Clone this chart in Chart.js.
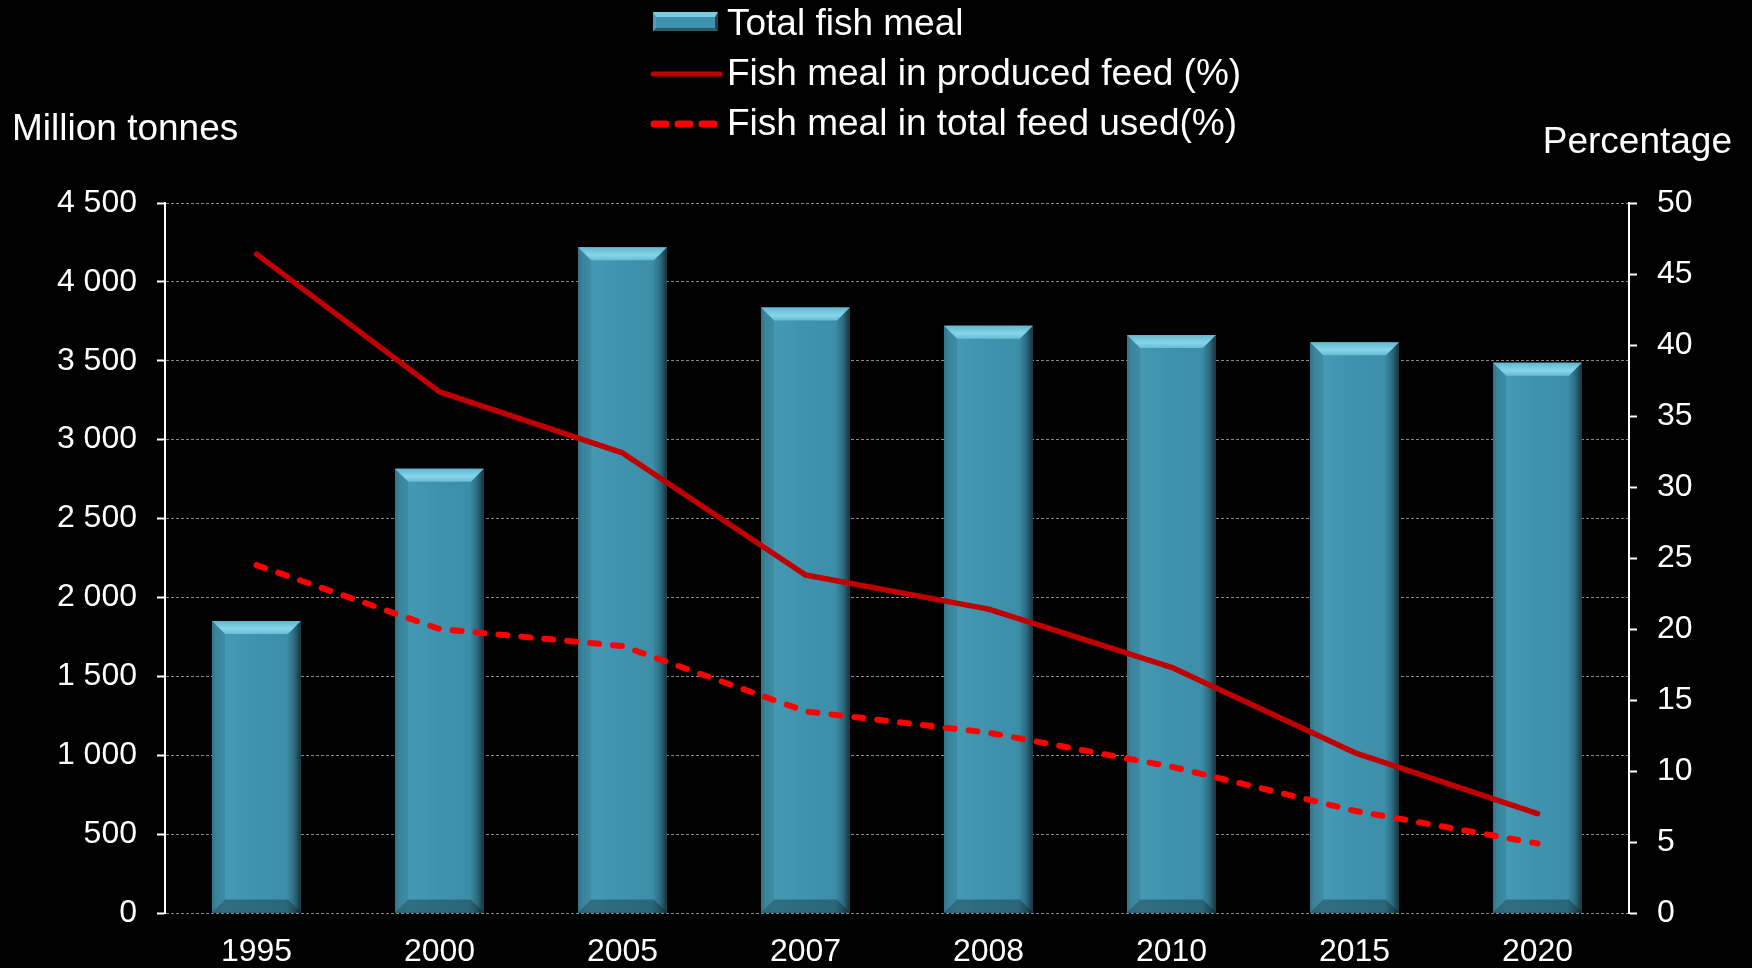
<!DOCTYPE html>
<html>
<head>
<meta charset="utf-8">
<script src="https://cdn.jsdelivr.net/npm/chart.js@4.4.0/dist/chart.umd.min.js"></script>
<style>
  html, body { margin: 0; padding: 0; background: #000; }
  body {
    width: 1752px; height: 968px; position: relative; overflow: hidden;
    font-family: "Liberation Sans", Arial, sans-serif; color: #fff;
  }
  #chart { position: absolute; left: 0; top: 0; }
  .title { position: absolute; font-size: 37px; line-height: 37px; white-space: nowrap; }
  .row { position: absolute; left: 650px; height: 37px; width: 640px; font-size: 37px; line-height: 37px; white-space: nowrap; }
  .row .txt { position: absolute; left: 77px; top: 0; }
  .row .icon { position: absolute; left: 0; }
  .baricon {
    position: absolute; left: 3px; top: 8px; width: 65px; height: 19px; box-sizing: border-box;
    background: #3f92ad;
    border-top: 5px solid #7bcbe1; border-bottom: 3px solid #275b6c;
    border-left: 3px solid #4d9db6; border-right: 3px solid #1e4552;
  }
</style>
</head>
<body>
<canvas id="chart" width="1752" height="968"></canvas>
<div class="title" style="left:12px; top:109px;">Million tonnes</div>
<div class="title" style="right:20px; top:122px;">Percentage</div>
<div id="legend"></div>
<script>
const years = ["1995", "2000", "2005", "2007", "2008", "2010", "2015", "2020"];
const totalFishMeal = [1850, 2815, 4220, 3837, 3722, 3663, 3618, 3487];
const producedFeedPct = [46.4, 36.7, 32.4, 23.8, 21.4, 17.3, 11.3, 7.0];
const totalFeedPct = [24.5, 20.0, 18.8, 14.2, 12.7, 10.3, 7.2, 4.9];

const seriesLabels = ["Total fish meal", "Fish meal in produced feed (%)", "Fish meal in total feed used(%)"];

const FONT = '"Liberation Sans", Arial, sans-serif';

// thousands with a space: 4 500
function spaced(v) {
  return String(v).replace(/\B(?=(\d{3})+(?!\d))/g, " ");
}

// bevelled bar look, drawn over the plain bars
const barBevel = {
  id: "barBevel",
  afterDatasetDraw(chart, args) {
    if (args.index !== 0) return;
    const ctx = chart.ctx;
    args.meta.data.forEach((bar) => {
      const { x, y, base, width } = bar.getProps(["x", "y", "base", "width"], true);
      const l = x - width / 2, r = x + width / 2, h = base - y, b = 13;
      ctx.save();

      const g = ctx.createLinearGradient(l, 0, r, 0);
      g.addColorStop(0, "#377d94");
      g.addColorStop(0.05, "#3f90aa");
      g.addColorStop(0.16, "#4699b3");
      g.addColorStop(0.5, "#3f92ad");
      g.addColorStop(0.84, "#3d8ea8");
      g.addColorStop(0.93, "#2c687c");
      g.addColorStop(1, "#16303a");
      ctx.fillStyle = g;
      ctx.fillRect(l, y, width, h);

      // top bevel
      const tg = ctx.createLinearGradient(0, y, 0, y + b);
      tg.addColorStop(0, "#62b7cf");
      tg.addColorStop(0.6, "#86d6eb");
      tg.addColorStop(1, "#66bcd4");
      ctx.fillStyle = tg;
      ctx.beginPath();
      ctx.moveTo(l, y);
      ctx.lineTo(r, y);
      ctx.lineTo(r - b, y + b);
      ctx.lineTo(l + b, y + b);
      ctx.closePath();
      ctx.fill();

      // bottom bevel
      ctx.fillStyle = "rgba(0,0,0,0.28)";
      ctx.beginPath();
      ctx.moveTo(l + b, base - b);
      ctx.lineTo(r - b, base - b);
      ctx.lineTo(r, base);
      ctx.lineTo(l, base);
      ctx.closePath();
      ctx.fill();
      ctx.fillStyle = "rgba(0,0,0,0.08)";
      ctx.beginPath();
      ctx.moveTo(l, y);
      ctx.lineTo(l + b, y + b);
      ctx.lineTo(l + b, base - b);
      ctx.lineTo(l, base);
      ctx.closePath();
      ctx.fill();
      ctx.restore();
    });
  },
};

const chart = new Chart(document.getElementById("chart"), {
  type: "bar",
  data: {
    labels: years,
    datasets: [
      {
        type: "bar",
        label: seriesLabels[0],
        data: totalFishMeal,
        backgroundColor: "#3f92ad",
        borderWidth: 0,
        barPercentage: 0.97,
        categoryPercentage: 0.5,
        yAxisID: "y",
        order: 3,
      },
      {
        type: "line",
        label: seriesLabels[1],
        data: producedFeedPct,
        borderColor: "#c00000",
        borderWidth: 5.5,
        borderCapStyle: "round",
        borderJoinStyle: "round",
        pointRadius: 0,
        tension: 0,
        yAxisID: "y1",
        order: 1,
      },
      {
        type: "line",
        label: seriesLabels[2],
        data: totalFeedPct,
        borderColor: "#ff0000",
        borderWidth: 6,
        borderDash: [9, 14],
        borderCapStyle: "round",
        borderJoinStyle: "round",
        pointRadius: 0,
        tension: 0,
        yAxisID: "y1",
        order: 2,
      },
    ],
  },
  options: {
    responsive: false,
    animation: false,
    devicePixelRatio: 1,
    layout: { padding: { top: 203, left: 0, right: 0, bottom: 0 } },
    plugins: {
      legend: { display: false },
      tooltip: { enabled: false },
    },
    scales: {
      x: {
        grid: { display: false, drawTicks: false },
        border: { display: false },
        ticks: { color: "#fff", font: { family: FONT, size: 32 }, padding: 20 },
        afterFit: (s) => { s.height = 55; },
      },
      y: {
        position: "left",
        min: 0,
        max: 4500,
        ticks: {
          stepSize: 500,
          color: "#fff",
          font: { family: FONT, size: 32 },
          padding: 20,
          callback: (v) => spaced(v),
        },
        grid: { color: "#8a8a8a", lineWidth: 1, tickColor: "#fff", tickLength: 8, tickWidth: 2 },
        border: { color: "#fff", width: 2, dash: [3, 2] },
        afterFit: (s) => { s.width = 165; },
      },
      y1: {
        position: "right",
        min: 0,
        max: 50,
        ticks: { stepSize: 5, color: "#fff", font: { family: FONT, size: 32 }, padding: 20 },
        grid: { drawOnChartArea: false, tickColor: "#fff", tickLength: 8, tickWidth: 2 },
        border: { color: "#fff", width: 2 },
        afterFit: (s) => { s.width = 123; },
      },
    },
  },
  plugins: [barBevel],
});

// legend, built from the datasets
const legend = document.getElementById("legend");
const rowTops = [4, 54, 104];
chart.data.datasets.forEach((ds, i) => {
  const row = document.createElement("div");
  row.className = "row";
  row.style.top = rowTops[i] + "px";
  let icon;
  if (ds.type === "bar") {
    icon = '<div class="baricon"></div>';
  } else {
    const dash = ds.borderDash ? 'stroke-dasharray="12 12"' : "";
    const w = ds.borderDash ? 7 : 5;
    icon = `<svg class="icon" style="top:14px" width="74" height="12">
      <line x1="${ds.borderDash ? 4 : 3}" y1="6" x2="${ds.borderDash ? 64 : 70}" y2="6"
        stroke="${ds.borderColor}" stroke-width="${w}" stroke-linecap="round" ${dash}/></svg>`;
  }
  row.innerHTML = icon + `<span class="txt">${ds.label}</span>`;
  legend.appendChild(row);
});
</script>
</body>
</html>
